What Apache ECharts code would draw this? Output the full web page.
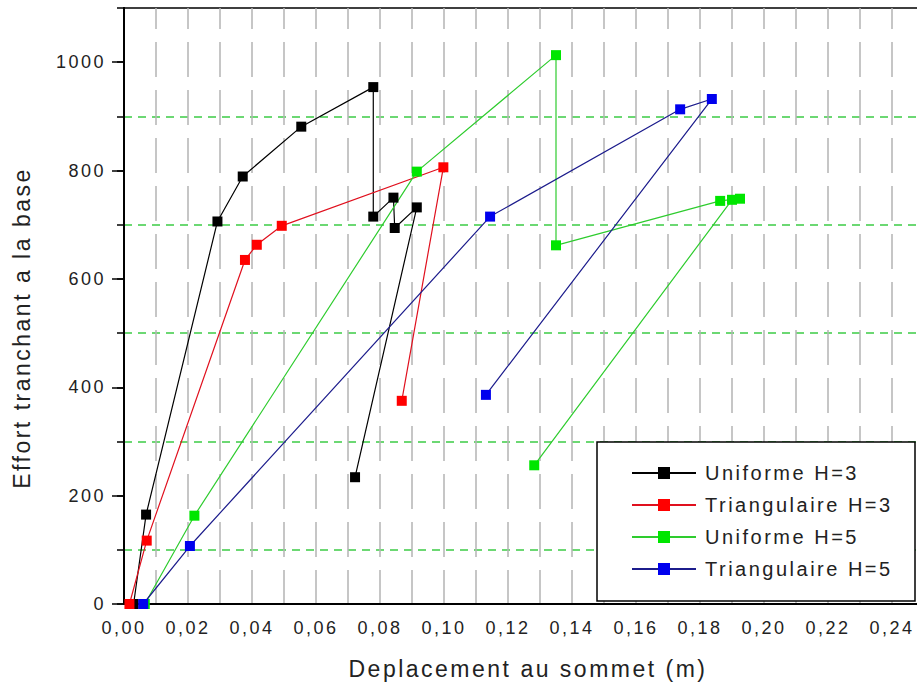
<!DOCTYPE html>
<html>
<head>
<meta charset="utf-8">
<script src="https://cdn.jsdelivr.net/npm/echarts@6/dist/echarts.min.js"></script>
<style>
  html, body { margin: 0; padding: 0; background: #fff; }
  #chart { width: 917px; height: 687px; letter-spacing: 2.5px; }
</style>
</head>
<body>
<div id="chart"></div>
<script>
// ---- data (x: displacement m, y: base shear) ----
const uniformeH3     = [[0.003,0],[0.0069,165],[0.0292,706],[0.0371,789],[0.0554,881],[0.0779,954],[0.0779,715],[0.0842,750],[0.0846,694],[0.0915,732],[0.0722,234]];
const triangulaireH3 = [[0.0017,0],[0.0071,117],[0.0378,635],[0.0415,663],[0.0493,698],[0.0998,806],[0.0868,375]];
const uniformeH5     = [[0.0065,0],[0.022,163],[0.0915,798],[0.135,1013],[0.135,662],[0.1863,744],[0.1925,748],[0.19,746],[0.1282,256]];
const triangulaireH5 = [[0.006,0],[0.0206,107],[0.1144,715],[0.1738,913],[0.1837,932],[0.1131,386]];
const seriesNames = ['Uniforme H=3', 'Triangulaire H=3', 'Uniforme H=5', 'Triangulaire H=5'];
const xTickValues = [0,0.02,0.04,0.06,0.08,0.10,0.12,0.14,0.16,0.18,0.20,0.22,0.24];
const yTickValues = [0,200,400,600,800,1000];
const xTitle = 'Deplacement au sommet (m)';
const yTitle = 'Effort tranchant a la base';

const FONT = '"Liberation Sans", Arial, sans-serif';
const TXT = '#222';
const chart = echarts.init(document.getElementById('chart'), null, { renderer: 'svg' });

function mk(name, data, lineColor, markColor) {
  return {
    name: name, type: 'line', data: data,
    symbol: 'rect', symbolSize: 10, showSymbol: true,
    lineStyle: { color: lineColor, width: 1.2 },
    itemStyle: { color: markColor },
    emphasis: { disabled: true },
    animation: false
  };
}

chart.setOption({
  animation: false,
  backgroundColor: '#fff',
  grid: { left: 124, top: 8, right: -7, bottom: 83, show: true, borderColor: '#000', borderWidth: 1.5, outerBoundsMode: 'none', containLabel: false },
  xAxis: {
    type: 'value', min: 0, max: 0.25, interval: 0.01,
    axisLine: { show: true, lineStyle: { color: '#000', width: 2 } },
    axisTick: { show: false },
    axisLabel: {
      customValues: xTickValues,
      margin: 15, fontSize: 18, fontFamily: FONT, color: TXT,
      formatter: function (v) {
        const k = Math.round(v * 100);
        return k % 2 === 0 ? (k / 100).toFixed(2).replace('.', ',') : '';
      }
    },
    splitLine: { show: true, showMinLine: false, lineStyle: { color: '#b4b4b4', width: 1.5, type: [35, 13], dashOffset: 14 } }
  },
  yAxis: [{
    type: 'value', min: 0, max: 1100, interval: 100, position: 'left',
    axisLine: { show: true, lineStyle: { color: '#000', width: 2 } },
    axisTick: { show: true, length: 7, lineStyle: { color: '#000', width: 1.5 } },
    axisLabel: {
      customValues: yTickValues,
      margin: 18, fontSize: 18, fontFamily: FONT, color: TXT,
      formatter: function (v) { return v % 200 === 0 ? String(v) : ''; }
    },
    splitLine: { show: true, showMaxLine: false, lineStyle: { color: ['transparent', '#3ccc46'], width: 1.5, type: [8, 6] } }
  }, {
    type: 'value', min: 0, max: 1100, interval: 100, position: 'left', offset: 0,
    axisLine: { show: true, lineStyle: { color: '#000', width: 2 } },
    axisTick: { show: true, length: 12, customValues: yTickValues, lineStyle: { color: '#000', width: 1.5 } },
    axisLabel: { show: false },
    splitLine: { show: false }
  }],
  legend: {
    orient: 'vertical', left: 631, top: 463, padding: 0,
    itemWidth: 64, itemHeight: 15, itemGap: 12, z: 20,
    selectedMode: false, data: seriesNames,
    textStyle: { fontSize: 20, fontFamily: FONT, color: TXT, lineHeight: 20, padding: [0, 0, 0, 4] }
  },
  graphic: [
    { type: 'rect', z: 10, silent: true, shape: { x: 597, y: 442, width: 318, height: 159 },
      style: { fill: '#fff', stroke: '#000', lineWidth: 1.5 } },
    { type: 'text', z: 10, x: 528, y: 669, silent: true,
      style: { text: xTitle, fontSize: 23, fontFamily: FONT, fill: TXT, textAlign: 'center', verticalAlign: 'middle' } },
    { type: 'text', z: 10, x: 22, y: 328, rotation: Math.PI / 2, silent: true,
      style: { text: yTitle, fontSize: 23, fontFamily: FONT, fill: TXT, textAlign: 'center', verticalAlign: 'middle' } }
  ],
  series: [
    mk(seriesNames[0], uniformeH3, '#000000', '#000000'),
    mk(seriesNames[1], triangulaireH3, '#e0101e', '#ff0000'),
    mk(seriesNames[2], uniformeH5, '#2ecc2e', '#00e600'),
    mk(seriesNames[3], triangulaireH5, '#1c1c8c', '#0000ee')
  ]
});
</script>
</body>
</html>
